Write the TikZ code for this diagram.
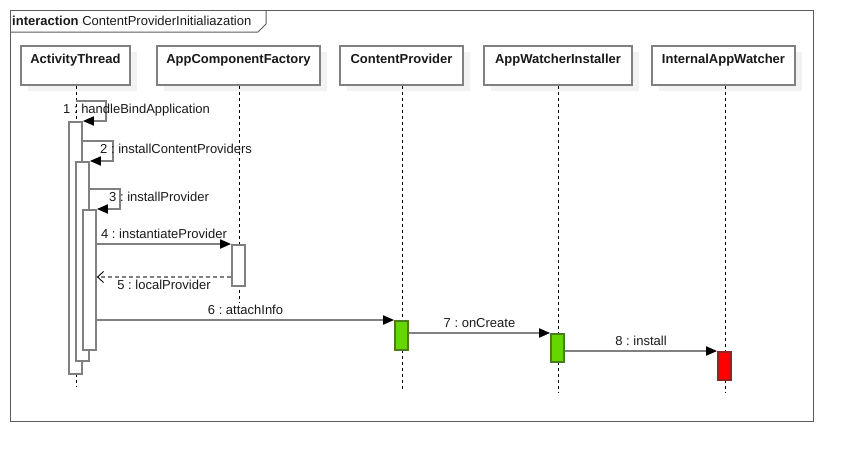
\documentclass[tikz,border=0pt]{standalone}
\usepackage{fontspec}
\setmainfont{Liberation Sans}
\usepackage{xcolor}
\usepackage{tikz}
\usetikzlibrary{arrows.meta, positioning, shadows}
\definecolor{LineGray}{RGB}{128, 128, 128}
\definecolor{FrameGray}{RGB}{90, 90, 90}
\definecolor{ShadowGray}{RGB}{242, 242, 242}
\definecolor{ActGreen}{RGB}{102, 214, 0}
\definecolor{ActGreenLine}{RGB}{75, 125, 30}
\definecolor{ActRed}{RGB}{255, 0, 0}
\definecolor{ActRedLine}{RGB}{150, 35, 35}
\definecolor{TextDark}{RGB}{25, 25, 25}
\frenchspacing

\begin{document}
\begin{tikzpicture}[
        x=1pt, y=-1pt,
        head/.style={draw=LineGray, line width=1.8pt, fill=white, anchor=north,
            minimum height=39pt, inner ysep=6pt, text height=12pt, text depth=15pt,
            font=\fontsize{13}{15}\selectfont\bfseries, text=TextDark,
            drop shadow={shadow xshift=7pt, shadow yshift=-6pt, fill=ShadowGray, opacity=1}},
        lifeline/.style={black, line width=0.7pt, dash pattern=on 3pt off 3pt},
        act/.style={draw=LineGray, line width=1.8pt, fill=white, anchor=north, minimum width=13pt, inner sep=0pt},
        act ok/.style={act, draw=ActGreenLine, fill=ActGreen},
        act new/.style={act, draw=ActRedLine, fill=ActRed},
        msg/.style={draw=LineGray, line width=1.8pt, -{Triangle[length=11pt,width=9pt,fill=black,color=black]}},
        reply/.style={draw=LineGray, line width=1.8pt, dash pattern=on 4pt off 3pt, -{Straight Barb[length=6pt,width=11pt,color=black,line width=0.9pt]}},
        msglbl/.style={font=\fontsize{13}{15}\selectfont, text=TextDark, inner sep=2pt, text height=9.5pt, text depth=2.5pt}
    ]

    \useasboundingbox (0,0) rectangle (853,461);

    % Ramka interakcji
    \draw[FrameGray, line width=1pt] (10,10) rectangle (813,421);
    \draw[FrameGray, line width=1pt] (10,32) -- (258,32) -- (266,24) -- (266,10);
    \node[font=\fontsize{13}{15}\selectfont, text=TextDark, anchor=west, inner sep=0pt] (title) at (12,21)
        {\textbf{interaction} ContentProviderInitialiazation};

    % Uczestnicy
    \node[head, minimum width=109pt] (at) at (75.5,45) {ActivityThread};
    \node[head, minimum width=163pt] (acf) at (238.5,45) {AppComponentFactory};
    \node[head, minimum width=123pt] (cp) at (401.5,45) {ContentProvider};
    \node[head, minimum width=148pt] (awi) at (558,45) {AppWatcherInstaller};
    \node[head, minimum width=143pt] (iaw) at (723.5,45) {InternalAppWatcher};

    % Linie zycia
    \draw[lifeline] (at.south -| 76,0) -- (76,387);
    \draw[lifeline] (acf.south -| 239,0) -- (239,303);
    \draw[lifeline] (cp.south -| 402,0) -- (402,389);
    \draw[lifeline] (awi.south -| 558,0) -- (558,393);
    \draw[lifeline] (iaw.south -| 725,0) -- (725,393);

    % Aktywacje
    \node[act, minimum height=252pt] (at1) at (75.5,121) {};
    \node[act, minimum height=199pt] (at2) at (82.5,161) {};
    \node[act, minimum height=140pt] (at3) at (89.5,209) {};
    \node[act, minimum height=41pt] (acf1) at (238.5,244) {};
    \node[act ok, minimum height=29pt] (cp1) at (401.5,320) {};
    \node[act ok, minimum height=28pt] (awi1) at (557.5,333) {};
    \node[act new, minimum height=28pt] (iaw1) at (724.5,351) {};

    % Komunikaty do siebie
    \draw[msg] (76,101) -- ++(30,0) |- (at1.north east);
    \node[msglbl, anchor=west] (lbl1) at (61,110) {1 : handleBindApplication};
    \draw[msg] (at1.east |- 0,141) -- ++(30,0) |- (at2.north east);
    \node[msglbl, anchor=west] (lbl2) at (98,150) {2 : installContentProviders};
    \draw[msg] (at2.east |- 0,189) -- ++(30,0) |- (at3.north east);
    \node[msglbl, anchor=west] (lbl3) at (107,198) {3 : installProvider};

    % Komunikaty miedzy uczestnikami
    \draw[msg] (at3.east |- acf1.north) -- node[msglbl, above] (lbl4) {4 : instantiateProvider} (acf1.north west);
    \draw[reply] (acf1.west |- 0,277) -- node[msglbl, below] (lbl5) {5 : localProvider} (at3.east |- 0,277);
    \draw[msg] (at3.east |- cp1.north) -- node[msglbl, above] (lbl6) {6 : attachInfo} (cp1.north west);
    \draw[msg] (cp1.east |- awi1.north) -- node[msglbl, above] (lbl7) {7 : onCreate} (awi1.north west);
    \draw[msg] (awi1.east |- iaw1.north) -- node[msglbl, above] (lbl8) {8 : install} (iaw1.north west);

\end{tikzpicture}
\end{document}
